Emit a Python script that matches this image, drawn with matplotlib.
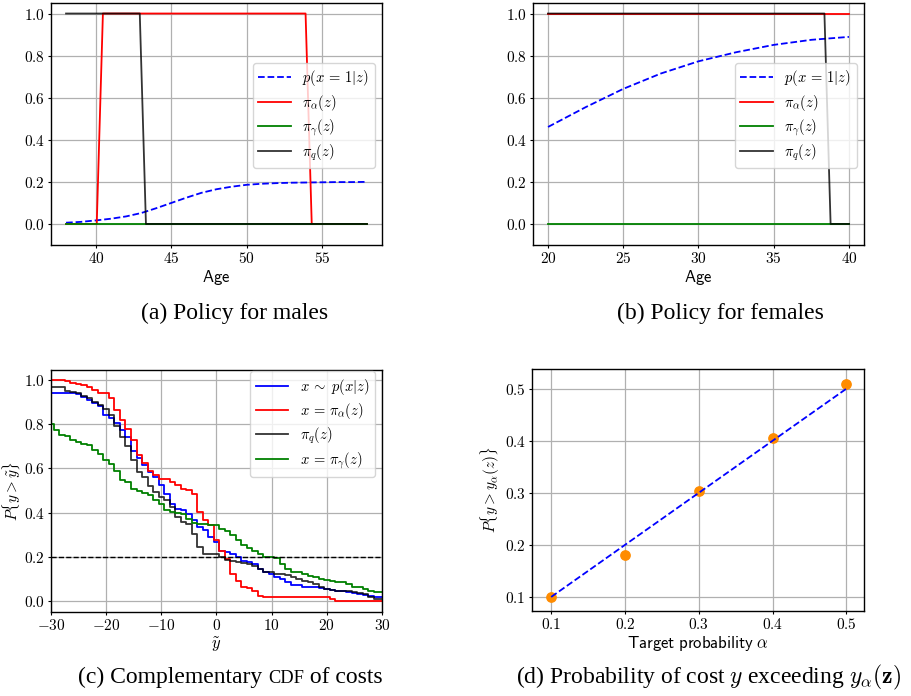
import matplotlib
matplotlib.use("Agg")
import matplotlib.pyplot as plt
from matplotlib.ticker import FuncFormatter, MultipleLocator

plt.rcParams['mathtext.fontset'] = 'cm'
plt.rcParams['font.family'] = ['DejaVu Sans']

# ---------------- data ----------------
# (a) males
male_age_p = [38, 39, 40, 41, 42, 43, 44, 45, 46, 47, 48, 49, 50, 51, 52, 53, 54, 55, 56, 57, 58]
male_p = [0.006, 0.010, 0.017, 0.025, 0.036, 0.052, 0.075, 0.100, 0.125, 0.148, 0.165,
          0.177, 0.186, 0.191, 0.194, 0.196, 0.197, 0.198, 0.199, 0.199, 0.200]
male_alpha_age = [38, 40.04, 40.45, 53.92, 54.33, 58]
male_alpha = [0, 0, 1, 1, 0, 0]
male_gamma_age = [38, 58]
male_gamma = [0, 0]
male_q_age = [38, 42.90, 43.31, 58]
male_q = [1, 1, 0, 0]

# (b) females
fem_age_p = [20, 22.5, 25, 27.5, 30, 32.5, 35, 37.5, 40]
fem_p = [0.461, 0.555, 0.642, 0.715, 0.773, 0.816, 0.851, 0.875, 0.889]
fem_alpha_age = [20, 40]
fem_alpha = [1, 1]
fem_gamma_age = [20, 40]
fem_gamma = [0, 0]
fem_q_age = [20, 38.37, 38.78, 40]
fem_q = [1, 1, 0, 0]

# (c) complementary CDF of costs
y_tilde = list(range(-30, 31))
ccdf_p = [0.94, 0.94, 0.94, 0.94, 0.94, 0.935, 0.925, 0.91, 0.895, 0.88, 0.84, 0.826, 0.806,
          0.773, 0.743, 0.68, 0.645, 0.614, 0.584, 0.56, 0.523, 0.486, 0.44, 0.417, 0.41,
          0.395, 0.365, 0.334, 0.32, 0.29, 0.266, 0.228, 0.221, 0.213, 0.20, 0.183, 0.178,
          0.168, 0.145, 0.133, 0.122, 0.11, 0.098, 0.085, 0.071, 0.07, 0.062, 0.062, 0.062,
          0.06, 0.054, 0.05, 0.047, 0.043, 0.04, 0.036, 0.032, 0.028, 0.024, 0.02, 0.02]
ccdf_alpha = [1.0, 1.0, 1.0, 0.997, 0.988, 0.98, 0.977, 0.97, 0.955, 0.94, 0.94, 0.917, 0.864,
              0.818, 0.78, 0.728, 0.66, 0.622, 0.59, 0.569, 0.55, 0.55, 0.539, 0.523, 0.508,
              0.50, 0.486, 0.402, 0.365, 0.342, 0.274, 0.228, 0.19, 0.122, 0.092, 0.062, 0.06,
              0.047, 0.023, 0.02, 0.02, 0.02, 0.02, 0.02, 0.02, 0.02, 0.02, 0.02, 0.02, 0.02,
              0.02, 0.01, 0.0, 0.0, 0.0, 0.0, 0.0, 0.0, 0.0, 0.0, 0.0]
ccdf_q = [0.97, 0.97, 0.97, 0.952, 0.945, 0.94, 0.927, 0.917, 0.90, 0.887, 0.87, 0.84, 0.79,
          0.743, 0.70, 0.637, 0.584, 0.56, 0.52, 0.493, 0.47, 0.455, 0.425, 0.38, 0.357,
          0.35, 0.304, 0.244, 0.213, 0.213, 0.213, 0.198, 0.186, 0.183, 0.175, 0.17, 0.165,
          0.156, 0.145, 0.133, 0.133, 0.122, 0.122, 0.118, 0.11, 0.10, 0.092, 0.088, 0.077,
          0.065, 0.054, 0.05, 0.047, 0.045, 0.044, 0.04, 0.038, 0.03, 0.017, 0.009, 0.009]
ccdf_gamma = [0.80, 0.773, 0.75, 0.746, 0.73, 0.72, 0.71, 0.705, 0.685, 0.664, 0.637, 0.619,
              0.588, 0.546, 0.539, 0.508, 0.498, 0.49, 0.478, 0.458, 0.44, 0.41, 0.402, 0.40,
              0.395, 0.372, 0.352, 0.35, 0.346, 0.342, 0.342, 0.327, 0.316, 0.30, 0.274, 0.251,
              0.239, 0.228, 0.213, 0.20, 0.20, 0.194, 0.168, 0.145, 0.133, 0.13, 0.122, 0.115,
              0.107, 0.10, 0.095, 0.092, 0.088, 0.085, 0.077, 0.065, 0.062, 0.054, 0.047,
              0.039, 0.039]
threshold = 0.2

# (d) probability of exceeding
target_alpha = [0.1, 0.2, 0.3, 0.4, 0.5]
observed_prob = [0.1, 0.18, 0.303, 0.405, 0.51]

captions = ["(a) Policy for males", "(b) Policy for females"]

# ---------------- figure ----------------
W, H = 912, 696
fig = plt.figure(figsize=(W / 100, H / 100), dpi=100)

def ax_px(l, t, r, b):
    return fig.add_axes([l / W, 1 - b / H, (r - l) / W, (b - t) / H])

axa = ax_px(51, 3, 382, 245)
axb = ax_px(533, 3, 864, 245)
axc = ax_px(51, 370, 382, 612)
axd = ax_px(532, 369, 864, 611)

fmt1 = FuncFormatter(lambda v, p: f'${v:.1f}$')
fmt0 = FuncFormatter(lambda v, p: f'${v:.0f}$')
TS = 11
LW = 1.3
LFS = 10.5
LAB = 12
YLAB = 11

def style(ax):
    ax.grid(True, color='#b0b0b0', linewidth=0.9)
    ax.set_axisbelow(True)
    ax.tick_params(labelsize=TS, length=2.5, width=0.8, pad=2)
    for s in ax.spines.values():
        s.set_linewidth(1.0)

def legend_right(ax, loc, yanchor):
    w = ax.get_position().width * W
    ax.legend(loc=loc, bbox_to_anchor=(1 - 7 / w, yanchor), borderaxespad=0,
              fontsize=LFS, handlelength=2.2, labelspacing=0.3)

# (a)
axa.plot(male_age_p, male_p, 'b--', lw=LW, label=r'$p(x\,=\,1|z)$')
axa.plot(male_alpha_age, male_alpha, color='red', lw=LW, label=r'$\pi_\alpha(z)$')
axa.plot(male_gamma_age, male_gamma, color='green', lw=LW, label=r'$\pi_\gamma(z)$')
axa.plot(male_q_age, male_q, color='black', alpha=0.8, lw=LW, label=r'$\pi_q(z)$')
axa.set_xlim(37, 59)
axa.set_ylim(-0.1, 1.05)
axa.xaxis.set_major_locator(MultipleLocator(5))
axa.yaxis.set_major_locator(MultipleLocator(0.2))
axa.xaxis.set_major_formatter(fmt0)
axa.yaxis.set_major_formatter(fmt1)
axa.set_xlabel(r'$\mathsf{Age}$', fontsize=LAB, labelpad=1)
style(axa)
legend_right(axa, 'center right', (245 - 115.5) / 242)

# (b)
axb.plot(fem_age_p, fem_p, 'b--', lw=LW, label=r'$p(x\,=\,1|z)$')
axb.plot(fem_alpha_age, fem_alpha, color='red', lw=LW, label=r'$\pi_\alpha(z)$')
axb.plot(fem_gamma_age, fem_gamma, color='green', lw=LW, label=r'$\pi_\gamma(z)$')
axb.plot(fem_q_age, fem_q, color='black', alpha=0.8, lw=LW, label=r'$\pi_q(z)$')
axb.set_xlim(19, 41)
axb.set_ylim(-0.1, 1.05)
axb.xaxis.set_major_locator(MultipleLocator(5))
axb.yaxis.set_major_locator(MultipleLocator(0.2))
axb.xaxis.set_major_formatter(fmt0)
axb.yaxis.set_major_formatter(fmt1)
axb.set_xlabel(r'$\mathsf{Age}$', fontsize=LAB, labelpad=1)
style(axb)
legend_right(axb, 'center right', (245 - 115.5) / 242)

# (c)
axc.plot(y_tilde, ccdf_p, color='blue', lw=LW, drawstyle='steps-mid', label=r'$x\,\sim\ p(x|z)$')
axc.plot(y_tilde, ccdf_alpha, color='red', lw=LW, drawstyle='steps-mid', label=r'$x\,=\,\pi_\alpha(z)$')
axc.plot(y_tilde, ccdf_q, color='black', alpha=0.8, lw=LW, drawstyle='steps-mid', label=r'$\pi_q(z)$')
axc.plot(y_tilde, ccdf_gamma, color='green', lw=LW, drawstyle='steps-mid', label=r'$x\,=\,\pi_\gamma(z)$')
axc.axhline(threshold, color='black', ls='--', lw=1.0)
axc.set_xlim(-30, 30)
axc.set_ylim(-0.05, 1.045)
axc.xaxis.set_major_locator(MultipleLocator(10))
axc.yaxis.set_major_locator(MultipleLocator(0.2))
axc.xaxis.set_major_formatter(fmt0)
axc.yaxis.set_major_formatter(fmt1)
axc.set_xlabel(r'$\tilde{y}$', fontsize=LAB, labelpad=1)
axc.set_ylabel(r'$P\{y>\tilde{y}\}$', fontsize=YLAB)
axc.yaxis.set_label_coords(-28 / 331, 0.5)
style(axc)
legend_right(axc, 'upper right', 1 - 1 / 242)

# (d)
axd.scatter(target_alpha, observed_prob, s=45, color='darkorange', zorder=2)
axd.plot(target_alpha, target_alpha, 'b--', lw=LW, zorder=3)
axd.set_xlim(0.074, 0.524)
axd.set_ylim(0.073, 0.538)
axd.xaxis.set_major_locator(MultipleLocator(0.1))
axd.yaxis.set_major_locator(MultipleLocator(0.1))
axd.xaxis.set_major_formatter(fmt1)
axd.yaxis.set_major_formatter(fmt1)
axd.set_xlabel(r'$\mathsf{Target\ probability}\ \alpha$', fontsize=LAB, labelpad=1)
axd.set_ylabel(r'$P\{y>y_\alpha(z)\}$', fontsize=YLAB)
axd.yaxis.set_label_coords(-30 / 332, 0.5)
style(axd)

# captions
CAP = 17
serif = ['Liberation Serif', 'DejaVu Serif']
fig.text(235 / W, 1 - 313 / H, captions[0], ha='center', va='center', fontsize=CAP, family=serif)
fig.text(720 / W, 1 - 313 / H, captions[1], ha='center', va='center', fontsize=CAP, family=serif)
fig.text(709 / W, 1 - 677 / H, r'(d) Probability of cost $y$ exceeding $y_\alpha(\mathbf{z})$',
         ha='center', va='center', fontsize=CAP, family=serif)

# (c) caption with small-caps "CDF"
renderer = fig.canvas.get_renderer()
parts = [("(c) Complementary ", CAP), ("CDF", CAP * 0.78), (" of costs", CAP)]
texts = []
for s, fs in parts:
    t = fig.text(0, 0, s, ha='left', va='baseline', fontsize=fs, family=serif)
    texts.append(t)
widths = [t.get_window_extent(renderer).width for t in texts]
total = sum(widths)
x0 = 230 - total / 2
ybase = 1 - 683 / H
for t, w in zip(texts, widths):
    t.set_position((x0 / W, ybase))
    x0 += w

fig.savefig('out.png', dpi=100)
